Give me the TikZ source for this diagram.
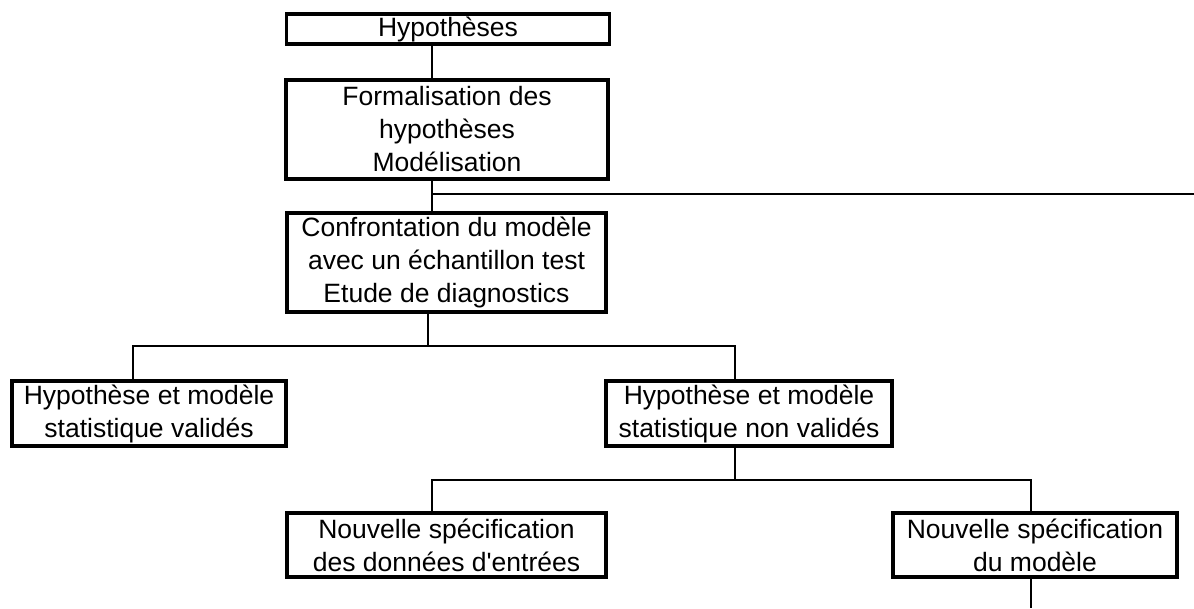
\documentclass[tikz,border=0pt]{standalone}
\usepackage{fontspec}
\setmainfont{Liberation Sans}
\usepackage{tikz}
\tikzset{
	box/.style={draw, line width=3.4pt, align=center, inner sep=0pt, font=\fontsize{26.5}{33}\selectfont},
	link/.style={line width=1.7pt}
}

\begin{document}
\begin{tikzpicture}[x=1pt, y=-1pt]
			%%%%% START %%%%%
			\useasboundingbox (0, 0) rectangle (1194, 608);
			
			\node[box, minimum width=323, minimum height=30] (hyp) at (448, 29) {Hypothèses};
			\node[box, minimum width=322, minimum height=99] (form) at (447, 129.5) {Formalisation des\\hypothèses\\Modélisation};
			\node[box, minimum width=319, minimum height=99] (conf) at (446.5, 262.5) {Confrontation du modèle\\avec un échantillon test\\Etude de diagnostics};
			
			\node[box, minimum width=274, minimum height=65] (valid) at (149, 413.5) {Hypothèse et modèle\\statistique validés};
			\node[box, minimum width=286, minimum height=65] (nonvalid) at (749, 413.5) {Hypothèse et modèle\\statistique non validés};
			
			\node[box, minimum width=319, minimum height=64] (donnees) at (446.5, 545) {Nouvelle spécification\\des données d\textquotesingle entrées};
			\node[box, minimum width=284, minimum height=64] (modele) at (1035, 545) {Nouvelle spécification\\du modèle};
			
			\coordinate (a1) at (432, 0);
			\coordinate (a2) at (428, 0);
			\coordinate (a3) at (133, 0);
			\coordinate (a4) at (735, 0);
			\coordinate (a5) at (1031, 0);
			\coordinate (back) at (1194, 194);
			\coordinate (out) at (1031, 608);
			\coordinate (split1) at (0, 346);
			\coordinate (split2) at (0, 480);
			
			\draw[link] (hyp.south -| a1) -- (form.north -| a1);
			\draw[link] (form.south -| a1) -- (conf.north -| a1);
			\draw[link] (back -| a1) -- (back);
			
			\draw[link] (conf.south -| a2) -- (split1 -| a2);
			\draw[link] (valid.north -| a3) -- (split1 -| a3) -- (split1 -| a4) -- (nonvalid.north -| a4);
			
			\draw[link] (nonvalid.south -| a4) -- (split2 -| a4);
			\draw[link] (donnees.north -| a1) -- (split2 -| a1) -- (split2 -| a5) -- (modele.north -| a5);
			\draw[link] (modele.south -| out) -- (out);
			
			%%%%% END %%%%%
		\end{tikzpicture}
\end{document}
